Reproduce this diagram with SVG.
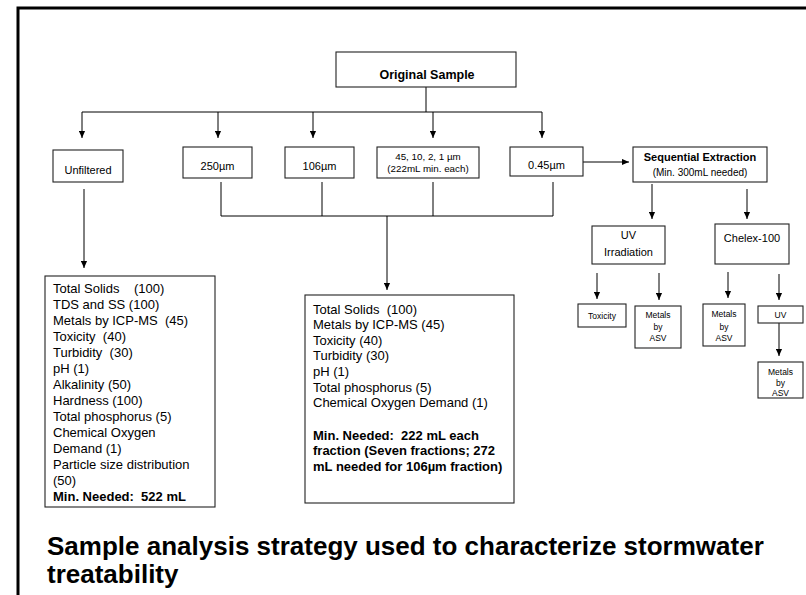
<svg xmlns="http://www.w3.org/2000/svg" width="806" height="595" viewBox="0 0 806 595">
<style>
.box{fill:#fff;stroke:#222;stroke-width:1.1}
.ln{fill:none;stroke:#000;stroke-width:1}
.ar{fill:none;stroke:#000;stroke-width:1;marker-end:url(#ah)}
text{font-family:"Liberation Sans",Arial,sans-serif;fill:#000}
.c{text-anchor:middle}
.n11{font-size:11px}
.n13{font-size:13px;white-space:pre}
.b13{font-size:13px;font-weight:bold;white-space:pre}
.s8{font-size:8.5px;text-anchor:middle}
.ttl{font-size:26px;font-weight:bold}
</style>
<defs>
<marker id="ah" viewBox="0 0 8 8" refX="8" refY="4" markerWidth="7" markerHeight="7" markerUnits="userSpaceOnUse" orient="auto"><path d="M0,0.5 L8,4 L0,7.5 z" fill="#000"/></marker>
</defs>
<rect width="806" height="595" fill="#fff"/>
<path d="M18,595 V8 H806" fill="none" stroke="#000" stroke-width="3"/>

<g id="connectors">
<path class="ln" d="M426,87 V112 M82,112 H542"/>
<path class="ar" d="M82,112 V138"/>
<path class="ar" d="M218,112 V138"/>
<path class="ar" d="M313,112 V138"/>
<path class="ar" d="M433,112 V138"/>
<path class="ar" d="M542,112 V138"/>
<path class="ar" d="M583,162 H629"/>
<path class="ln" d="M221,182 V216 M322,182 V216 M433,182 V216 M553,182 V216 M221,216 H553"/>
<path class="ar" d="M387,216 V290"/>
<path class="ar" d="M84,189 V268"/>
<path class="ar" d="M652,184 V219"/>
<path class="ar" d="M747,189 V219"/>
<path class="ar" d="M597,273 V299"/>
<path class="ar" d="M659,273 V300"/>
<path class="ar" d="M728,272 V298"/>
<path class="ar" d="M779,274 V300"/>
<path class="ar" d="M779,323 V356"/>
</g>

<g id="original-sample">
<rect class="box" x="336" y="52" width="180" height="35"/>
<text class="c" x="427" y="79" font-size="12.5" font-weight="bold">Original Sample</text>
</g>

<g id="unfiltered">
<rect class="box" x="53" y="150" width="70" height="32"/>
<text class="c n11" x="88" y="174">Unfiltered</text>
</g>

<g id="f250">
<rect class="box" x="183" y="147" width="69" height="31"/>
<text class="c n11" x="217.5" y="170">250µm</text>
</g>

<g id="f106">
<rect class="box" x="285" y="147" width="69" height="31"/>
<text class="c n11" x="319.5" y="170">106µm</text>
</g>

<g id="f45">
<rect class="box" x="377" y="147" width="102" height="31"/>
<text class="c" x="428" y="160" font-size="9.8">45, 10, 2, 1 µm</text>
<text class="c" x="428" y="172" font-size="9.8">(222mL min. each)</text>
</g>

<g id="f045">
<rect class="box" x="510" y="147" width="73" height="29"/>
<text class="c n11" x="546.5" y="169">0.45µm</text>
</g>

<g id="sequential">
<rect class="box" x="633" y="147" width="134" height="35"/>
<text class="c" x="700" y="161" font-size="11" font-weight="bold">Sequential Extraction</text>
<text class="c" x="700" y="176" font-size="10">(Min. 300mL needed)</text>
</g>

<g id="unfiltered-list">
<rect class="box" x="45" y="276" width="170" height="231"/>
<text class="n13" x="53" y="293">Total Solids    (100)</text>
<text class="n13" x="53" y="309">TDS and SS (100)</text>
<text class="n13" x="53" y="325">Metals by ICP-MS  (45)</text>
<text class="n13" x="53" y="341">Toxicity  (40)</text>
<text class="n13" x="53" y="357">Turbidity  (30)</text>
<text class="n13" x="53" y="373">pH (1)</text>
<text class="n13" x="53" y="389">Alkalinity (50)</text>
<text class="n13" x="53" y="405">Hardness (100)</text>
<text class="n13" x="53" y="421">Total phosphorus (5)</text>
<text class="n13" x="53" y="437">Chemical Oxygen</text>
<text class="n13" x="53" y="453">Demand (1)</text>
<text class="n13" x="53" y="469">Particle size distribution</text>
<text class="n13" x="53" y="485">(50)</text>
<text class="b13" x="53" y="501">Min. Needed:  522 mL</text>
</g>

<g id="fraction-list">
<rect class="box" x="305" y="295" width="209" height="208"/>
<text class="n13" x="313" y="313.5">Total Solids  (100)</text>
<text class="n13" x="313" y="329">Metals by ICP-MS (45)</text>
<text class="n13" x="313" y="344.7">Toxicity (40)</text>
<text class="n13" x="313" y="360.3">Turbidity (30)</text>
<text class="n13" x="313" y="376">pH (1)</text>
<text class="n13" x="313" y="391.5">Total phosphorus (5)</text>
<text class="n13" x="313" y="407">Chemical Oxygen Demand (1)</text>
<text class="b13" x="313" y="439.5">Min. Needed:  222 mL each</text>
<text class="b13" x="313" y="455">fraction (Seven fractions; 272</text>
<text class="b13" x="313" y="470.7">mL needed for 106µm fraction)</text>
</g>

<g id="uv-irradiation">
<rect class="box" x="592" y="226" width="73" height="38"/>
<text class="c n11" x="628.5" y="239">UV</text>
<text class="c n11" x="628.5" y="256">Irradiation</text>
</g>

<g id="chelex">
<rect class="box" x="715" y="224" width="74" height="40"/>
<text class="c n11" x="752" y="242">Chelex-100</text>
</g>

<g id="toxicity">
<rect class="box" x="578" y="304" width="48" height="23"/>
<text class="s8" x="602" y="319">Toxicity</text>
</g>

<g id="uv-metals-asv">
<rect class="box" x="635" y="306" width="46" height="42"/>
<text class="s8" x="658" y="318">Metals</text>
<text class="s8" x="658" y="330">by</text>
<text class="s8" x="658" y="341">ASV</text>
</g>

<g id="chelex-metals-asv">
<rect class="box" x="703" y="304" width="42" height="42"/>
<text class="s8" x="724" y="317">Metals</text>
<text class="s8" x="724" y="330">by</text>
<text class="s8" x="724" y="341">ASV</text>
</g>

<g id="uv">
<rect class="box" x="758" y="306" width="45" height="17"/>
<text class="s8" x="780.5" y="318">UV</text>
</g>

<g id="uv-metals-asv-2">
<rect class="box" x="758" y="362" width="45" height="36"/>
<text class="s8" x="780.5" y="375">Metals</text>
<text class="s8" x="780.5" y="385.5">by</text>
<text class="s8" x="780.5" y="396">ASV</text>
</g>

<g id="title">
<text class="ttl" x="47" y="555">Sample analysis strategy used to characterize stormwater</text>
<text class="ttl" x="47" y="583">treatability</text>
</g>
</svg>
